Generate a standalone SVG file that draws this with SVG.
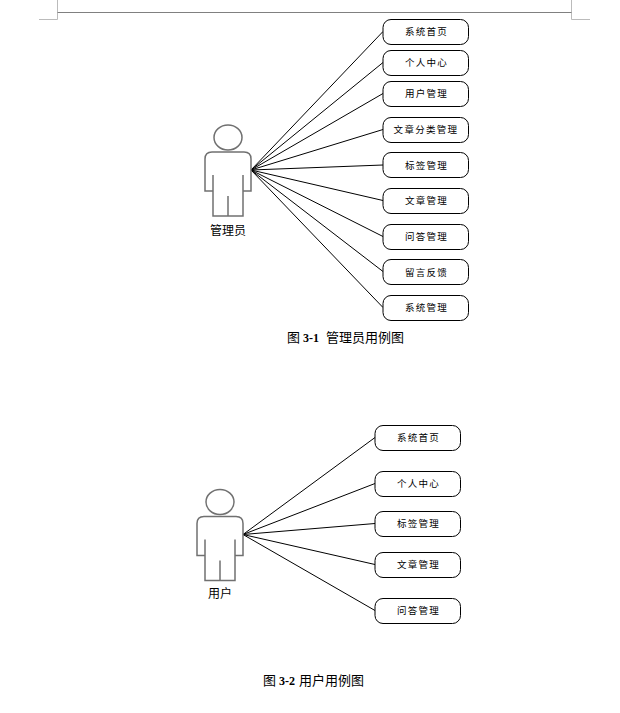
<svg xmlns="http://www.w3.org/2000/svg" width="620" height="713" viewBox="0 0 620 713">
<style>
text{font-family:"Noto Sans CJK SC","Liberation Sans",sans-serif;fill:#000;text-anchor:middle}
.uc{font-size:9.500px;letter-spacing:1.300px}
.lab{font-size:12px}
.cap{font-size:13px;text-anchor:start}
.n{font-family:"Liberation Serif",serif;font-weight:bold;font-size:12px}
.box{fill:#fff;stroke:#000;stroke-width:1}
.a{fill:none;stroke:#707070;stroke-width:1.500}
.c line{stroke:#000;stroke-width:1}
.m{stroke:#bbb;stroke-width:1;fill:none}
</style>
<defs>
<g id="actor">
<ellipse class="a" cx="228" cy="137.500" rx="14" ry="12.500"/>
<path class="a" d="M213 191H205V159Q205 152 212 152H244Q251 152 251 159V191H243M213 175V216H243V175M228 196V216"/>
</g>
</defs>
<g id="page-marks">
<path class="m" d="M39 19.500H57.500V0M571.500 0V19.500H590"/>
<line x1="57.500" y1="12.500" x2="571.500" y2="12.500" stroke="#808080" stroke-width="1"/>
</g>
<g id="connectors" class="c">
<line x1="251" y1="170" x2="383" y2="31.500"/>
<line x1="251" y1="170" x2="383" y2="62.500"/>
<line x1="251" y1="170" x2="383" y2="93.500"/>
<line x1="251" y1="170" x2="383" y2="129.500"/>
<line x1="251" y1="170" x2="383" y2="165"/>
<line x1="251" y1="170" x2="383" y2="200.500"/>
<line x1="251" y1="170" x2="383" y2="236.500"/>
<line x1="251" y1="170" x2="383" y2="271.500"/>
<line x1="251" y1="170" x2="383" y2="307.500"/>
<line x1="243" y1="534.500" x2="375" y2="437.500"/>
<line x1="243" y1="534.500" x2="375" y2="483.500"/>
<line x1="243" y1="534.500" x2="375" y2="523.500"/>
<line x1="243" y1="534.500" x2="375" y2="564.500"/>
<line x1="243" y1="534.500" x2="375" y2="610.500"/>
</g>
<g id="actor-admin"><use href="#actor"/><text class="lab" x="228" y="234.500">管理员</text></g>
<g id="actor-user"><use href="#actor" transform="translate(-8 364.500)"/><text class="lab" x="220" y="598">用户</text></g>
<g id="a1"><rect class="box" x="383" y="19.500" width="85.500" height="25" rx="8"/><text class="uc" x="426.500" y="35">系统首页</text></g>
<g id="a2"><rect class="box" x="383" y="50.500" width="85.500" height="25" rx="8"/><text class="uc" x="426.500" y="66">个人中心</text></g>
<g id="a3"><rect class="box" x="383" y="81.500" width="85.500" height="25" rx="8"/><text class="uc" x="426.500" y="97">用户管理</text></g>
<g id="a4"><rect class="box" x="383" y="117.500" width="85.500" height="25" rx="8"/><text class="uc" x="426" y="133">文章分类管理</text></g>
<g id="a5"><rect class="box" x="383" y="152.500" width="85.500" height="25" rx="8"/><text class="uc" x="426.500" y="169">标签管理</text></g>
<g id="a6"><rect class="box" x="383" y="188.500" width="85.500" height="25" rx="8"/><text class="uc" x="426.500" y="204">文章管理</text></g>
<g id="a7"><rect class="box" x="383" y="224.500" width="85.500" height="25" rx="8"/><text class="uc" x="426.500" y="240">问答管理</text></g>
<g id="a8"><rect class="box" x="383" y="259.500" width="85.500" height="25" rx="8"/><text class="uc" x="426.500" y="275.500">留言反馈</text></g>
<g id="a9"><rect class="box" x="383" y="295.500" width="85.500" height="25" rx="8"/><text class="uc" x="426.500" y="311">系统管理</text></g>
<g id="u1"><rect class="box" x="375" y="425.500" width="85.500" height="25" rx="8"/><text class="uc" x="418.500" y="441">系统首页</text></g>
<g id="u2"><rect class="box" x="375" y="471.500" width="85.500" height="25" rx="8"/><text class="uc" x="418.500" y="487">个人中心</text></g>
<g id="u3"><rect class="box" x="375" y="511.500" width="85.500" height="25" rx="8"/><text class="uc" x="418.500" y="527">标签管理</text></g>
<g id="u4"><rect class="box" x="375" y="552.500" width="85.500" height="25" rx="8"/><text class="uc" x="418.500" y="568">文章管理</text></g>
<g id="u5"><rect class="box" x="375" y="598.500" width="85.500" height="25" rx="8"/><text class="uc" x="418.500" y="614">问答管理</text></g>
<text class="cap" x="287" y="342">图<tspan class="n" x="303">3-1</tspan><tspan x="326">管理员用例图</tspan></text>
<text class="cap" x="263" y="685">图<tspan class="n" x="279">3-2</tspan><tspan x="299">用户用例图</tspan></text>
</svg>
